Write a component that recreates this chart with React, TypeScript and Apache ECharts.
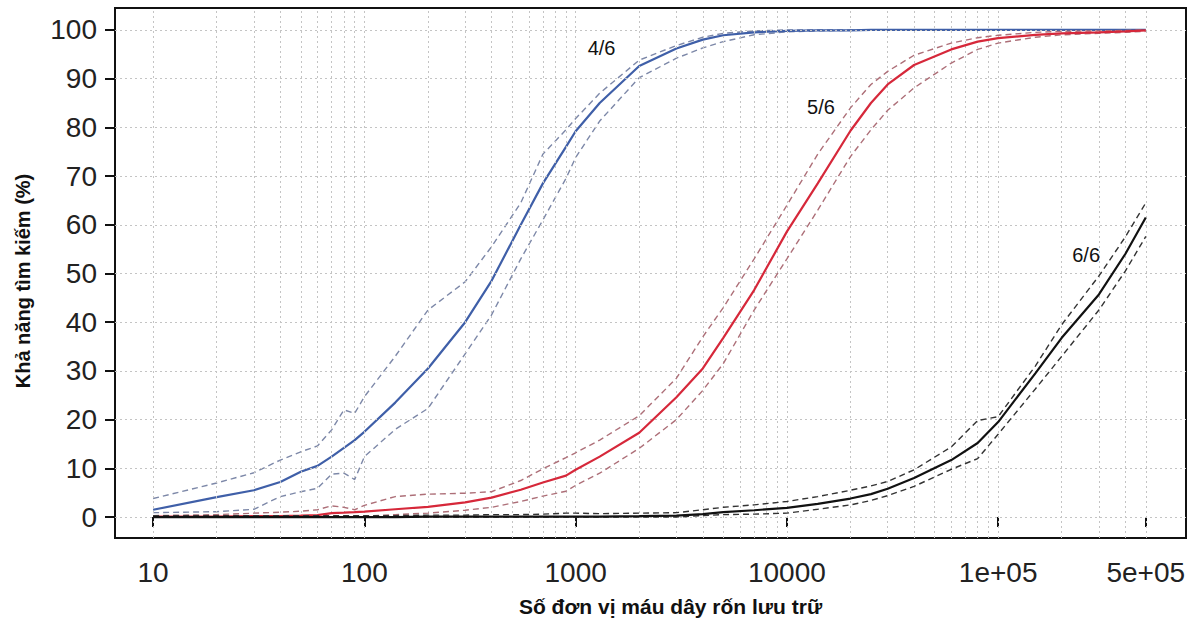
import React, { useEffect, useRef } from "react";
import * as echarts from "echarts";

// Sampled unit counts (x positions of the curves)
const X = [10, 20, 30, 40, 50, 60, 70, 80, 90, 100, 140, 200, 300, 400, 550, 700, 900, 1000, 1300, 2000, 3000, 4000, 5000, 7000, 10000, 14000, 20000, 25000, 30000, 40000, 60000, 80000, 100000, 150000, 200000, 300000, 400000, 500000];

// 4/6 match
const BLUE_MAIN = [1.5, 4.1, 5.5, 7.2, 9.3, 10.5, 12.4, 14.2, 15.8, 17.5, 23.5, 30.5, 40, 48.5, 60, 68.5, 76, 79.2, 85, 92.6, 96.2, 98, 98.9, 99.5, 99.8, 99.9, 99.9, 100, 100, 100, 100, 100, 100, 100, 100, 100, 100, 100];
const BLUE_UPPER = [3.8, 7.0, 9.1, 11.7, 13.4, 14.6, 17.9, 22.0, 21.3, 24.7, 33, 42.5, 48.3, 55.5, 64.5, 74.5, 79.5, 81.8, 87, 93.8, 96.8, 98.5, 99.3, 99.8, 100, 100, 100, 100, 100, 100, 100, 100, 100, 100, 100, 100, 100, 100];
const BLUE_LOWER = [0.9, 1.1, 1.6, 4.2, 5.2, 5.9, 8.8, 9.0, 7.7, 12.4, 18, 22.3, 33.5, 41.5, 53, 61, 69.5, 73.8, 81.3, 90.2, 94.2, 96.3, 97.6, 99.0, 99.6, 99.8, 99.9, 100, 100, 100, 100, 100, 100, 100, 100, 100, 100, 100];

// 5/6 match
const RED_MAIN = [0.1, 0.1, 0.2, 0.2, 0.3, 0.4, 0.8, 0.9, 1.0, 1.1, 1.6, 2.1, 3.0, 4.0, 5.6, 7.1, 8.5, 9.7, 12.4, 17.3, 24.6, 30.5, 36.8, 46.6, 58.6, 68.5, 79.3, 85.0, 88.8, 92.8, 96, 97.6, 98.3, 99.0, 99.3, 99.5, 99.7, 99.9];
const RED_UPPER = [0.3, 0.5, 0.8, 1.0, 1.2, 1.5, 2.3, 2.0, 1.5, 2.4, 4.2, 4.7, 4.9, 5.2, 7.5, 9.9, 12.2, 13.2, 15.8, 20.8, 28.5, 37, 43, 53, 64, 74.5, 84, 88.8, 91.5, 94.8, 97.3, 98.4, 98.9, 99.5, 99.7, 99.8, 99.9, 100];
const RED_LOWER = [0, 0, 0, 0, 0, 0, 0.1, 0.1, 0.1, 0.2, 0.5, 0.8, 1.4, 2.0, 3.2, 4.3, 5.3, 6.5, 9.0, 14.1, 20, 26, 31.5, 42.5, 53, 63, 74, 79.5, 83.5, 88.1, 93.2, 96, 97.3, 98.5, 99.0, 99.3, 99.5, 99.7];

// 6/6 match
const BLACK_MAIN = [0, 0, 0, 0, 0, 0, 0, 0, 0, 0, 0, 0.1, 0.1, 0.1, 0.1, 0.1, 0.1, 0.1, 0.1, 0.2, 0.3, 0.6, 1.0, 1.4, 1.9, 2.7, 3.8, 4.7, 5.8, 8.0, 11.7, 15.2, 19.5, 29.5, 36.8, 45.7, 54, 61.5];
const BLACK_UPPER = [0.3, 0.3, 0.3, 0.3, 0.3, 0.3, 0.3, 0.3, 0.3, 0.3, 0.3, 0.4, 0.4, 0.5, 0.5, 0.6, 0.8, 0.8, 0.7, 0.8, 0.9, 1.5, 2.0, 2.5, 3.2, 4.2, 5.5, 6.4, 7.3, 9.7, 14.4, 19.8, 20.6, 31, 39.5, 49.5, 57.5, 64.5];
const BLACK_LOWER = [0, 0, 0, 0, 0, 0, 0, 0, 0, 0, 0, 0, 0, 0, 0, 0, 0, 0, 0, 0, 0, 0.3, 0.5, 0.6, 0.8, 1.6, 2.5, 3.4, 4.4, 6.3, 9.8, 12.0, 17.0, 26.3, 33.0, 42.5, 50.5, 57.6];

// Axes
const X_TICKS = [10, 100, 1000, 10000, 100000, 500000];
const X_TICK_LABELS = ["10", "100", "1000", "10000", "1e+05", "5e+05"];
const X_GRID = [10, 20, 30, 40, 50, 60, 70, 80, 90, 100, 200, 300, 400, 500, 600, 700, 800, 900, 1000, 2000, 3000, 4000, 5000, 6000, 7000, 8000, 9000, 10000, 20000, 30000, 40000, 50000, 60000, 70000, 80000, 90000, 100000, 200000, 300000, 400000, 500000];
const Y_TICKS = [0, 10, 20, 30, 40, 50, 60, 70, 80, 90, 100];

// Curve labels
const LABEL_TEXT = ["4/6", "5/6", "6/6"];
const LABEL_X = [1327, 14500, 261000];
const LABEL_Y = [96.3, 84.2, 53.8];

const FONT = "'Liberation Sans', Arial, Helvetica, sans-serif";

const pairs = (ys: number[]) => X.map((x, i) => [x, ys[i]]);

function mainLine(name: string, ys: number[], color: string, z: number) {
  return {
    name,
    type: "line",
    data: pairs(ys),
    showSymbol: false,
    symbol: "none",
    z,
    lineStyle: { color, width: 2.2 },
  };
}
function ciLine(name: string, ys: number[], color: string, z: number) {
  return {
    name,
    type: "line",
    data: pairs(ys),
    showSymbol: false,
    symbol: "none",
    z,
    lineStyle: { color, width: 1.4, type: [6, 4] },
  };
}

export default function App() {
  const ref = useRef<HTMLDivElement>(null);
  useEffect(() => {
    if (!ref.current) return;
    const chart = echarts.init(ref.current, undefined, { renderer: "svg" });
    const labelFor = (v: number) => {
      for (let i = 0; i < X_TICKS.length; i++) {
        if (Math.abs(Math.log10(v) - Math.log10(X_TICKS[i])) < 1e-6) return X_TICK_LABELS[i];
      }
      return "";
    };
    chart.setOption({
      animation: false,
      backgroundColor: "#ffffff",
      grid: {
        left: 115,
        top: 8,
        right: 9,
        bottom: 87,
        show: true,
        borderColor: "#111",
        borderWidth: 2,
        backgroundColor: "transparent",
        containLabel: false,
      },
      xAxis: {
        type: "log",
        logBase: 10,
        min: 6.6,
        max: 775000,
        axisLine: { show: false },
        axisTick: {
          show: true,
          customValues: X_TICKS,
          length: 10,
          lineStyle: { color: "#111", width: 2 },
        },
        axisLabel: {
          customValues: X_TICKS,
          formatter: (v: number) => labelFor(v),
          fontSize: 28,
          color: "#222",
          fontFamily: FONT,
          margin: 20,
        },
        splitLine: { show: false },
        minorSplitLine: { show: false },
        name: "Số đơn vị máu dây rốn lưu trữ",
        nameLocation: "middle",
        nameGap: 58,
        nameTextStyle: {
          fontSize: 21,
          fontWeight: "bold",
          color: "#111",
          fontFamily: FONT,
          padding: [0, 0, 0, 40],
        },
      },
      yAxis: {
        type: "value",
        min: -4.3,
        max: 104.5,
        axisLine: { show: false },
        axisTick: {
          show: true,
          customValues: Y_TICKS,
          length: 10,
          lineStyle: { color: "#111", width: 2 },
        },
        axisLabel: {
          customValues: Y_TICKS,
          fontSize: 28,
          color: "#222",
          fontFamily: FONT,
          margin: 18,
        },
        splitLine: { show: false },
        name: "Khả năng tìm kiếm (%)",
        nameLocation: "middle",
        nameGap: 82,
        nameTextStyle: {
          fontSize: 20,
          fontWeight: "bold",
          color: "#111",
          fontFamily: FONT,
          padding: [0, 16, 0, 0],
        },
      },
      series: [
        {
          name: "grid",
          type: "line",
          data: [],
          silent: true,
          z: 1,
          markLine: {
            silent: true,
            symbol: ["none", "none"],
            label: { show: false },
            lineStyle: { color: "#c4c4c4", type: [2, 3], width: 1 },
            data: [
              ...X_GRID.map((v) => ({ xAxis: v })),
              ...Y_TICKS.map((v) => ({ yAxis: v })),
            ],
          },
        },
        ciLine("4/6 upper", BLUE_UPPER, "#7d88a8", 3),
        ciLine("4/6 lower", BLUE_LOWER, "#7d88a8", 3),
        mainLine("4/6", BLUE_MAIN, "#3f5fa8", 4),
        ciLine("5/6 upper", RED_UPPER, "#ad6f78", 5),
        ciLine("5/6 lower", RED_LOWER, "#ad6f78", 5),
        mainLine("5/6", RED_MAIN, "#d6283a", 6),
        ciLine("6/6 upper", BLACK_UPPER, "#333333", 7),
        ciLine("6/6 lower", BLACK_LOWER, "#333333", 7),
        mainLine("6/6", BLACK_MAIN, "#111111", 8),
        {
          name: "labels",
          type: "scatter",
          symbolSize: 2,
          itemStyle: { color: "rgba(0,0,0,0)" },
          silent: true,
          z: 9,
          data: LABEL_TEXT.map((t, i) => ({ name: t, value: [LABEL_X[i], LABEL_Y[i]] })),
          label: {
            show: true,
            position: "inside",
            formatter: "{b}",
            fontSize: 20,
            color: "#111",
            opacity: 1,
            textBorderWidth: 0,
            fontFamily: FONT,
          },
        },
      ],
    });
    return () => chart.dispose();
  }, []);
  return (
    <div
      ref={ref}
      style={{ position: "fixed", left: 0, top: 0, width: 1195, height: 625, background: "#fff" }}
    />
  );
}
